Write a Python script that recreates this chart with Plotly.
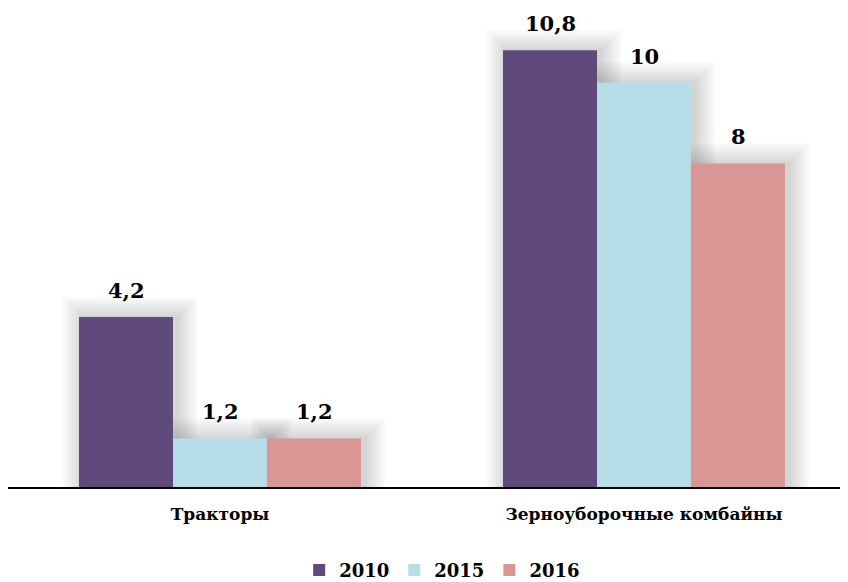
import plotly.graph_objects as go

categories = ["Тракторы", "Зерноуборочные комбайны"]
series_names = ["2010", "2015", "2016"]
values_2010 = [4.2, 10.8]
values_2015 = [1.2, 10.0]
values_2016 = [1.2, 8.0]

series_values = [values_2010, values_2015, values_2016]
colors = ["#604A7B", "#B7DEE8", "#D99694"]

FONT = "DejaVu Serif"

# geometry (style only)
X_PX = 424.0      # px per category unit
Y_PX = 40.45      # px per value unit
bar_w = 94 / X_PX
idx = list(range(len(categories)))

fig = go.Figure()

# soft shadow layers behind bars
shadow_layers = [2, 5, 8, 11, 14, 17, 20]
shift = 4 / X_PX
for i, vals in enumerate(series_values):
    off = -1.5 * bar_w + i * bar_w
    for e in shadow_layers:
        ex = e / X_PX
        ey = e / Y_PX
        fig.add_trace(go.Bar(
            x=idx, y=[v + ey for v in vals],
            offset=off - ex + shift, width=bar_w + 2 * ex,
            marker=dict(color="rgba(0,0,0,0.024)", line=dict(width=0)),
            showlegend=False, hoverinfo="skip",
        ))

for i, (name, vals) in enumerate(zip(series_names, series_values)):
    off = -1.5 * bar_w + i * bar_w
    fig.add_trace(go.Bar(
        x=idx, y=vals, name=name,
        offset=off, width=bar_w,
        marker=dict(color=colors[i], line=dict(width=0)),
    ))
    for j, v in enumerate(vals):
        fig.add_annotation(
            x=j + off + bar_w / 2, y=v, xref="x", yref="y",
            text=f"{v:g}".replace(".", ","),
            showarrow=False, yanchor="bottom", yshift=12,
            font=dict(family=FONT, size=21, color="#000000", weight="bold"),
        )

fig.update_layout(
    width=848, height=582,
    barmode="overlay",
    font=dict(family=FONT),
    paper_bgcolor="white", plot_bgcolor="white",
    margin=dict(l=0, r=8, t=2, b=103),
    showlegend=True,
    legend=dict(
        orientation="h", xref="container", yref="container",
        x=0.512, xanchor="center", y=0.034, yanchor="middle",
        font=dict(family=FONT, size=18, color="#000000", weight="bold"),
        traceorder="normal", itemwidth=30,
    ),
    xaxis=dict(
        tickmode="array", tickvals=idx, ticktext=categories,
        range=[-0.5, -0.5 + 840 / X_PX],
        showline=True, linecolor="#000000", linewidth=1.5,
        ticks="outside", ticklen=11, tickcolor="rgba(0,0,0,0)",
        tickfont=dict(family=FONT, size=17, color="#000000", weight="bold"),
        showgrid=False, zeroline=False,
    ),
    yaxis=dict(
        range=[0, 477 / Y_PX], visible=False, showgrid=False, zeroline=False,
    ),
)

fig.write_html("out.html")
